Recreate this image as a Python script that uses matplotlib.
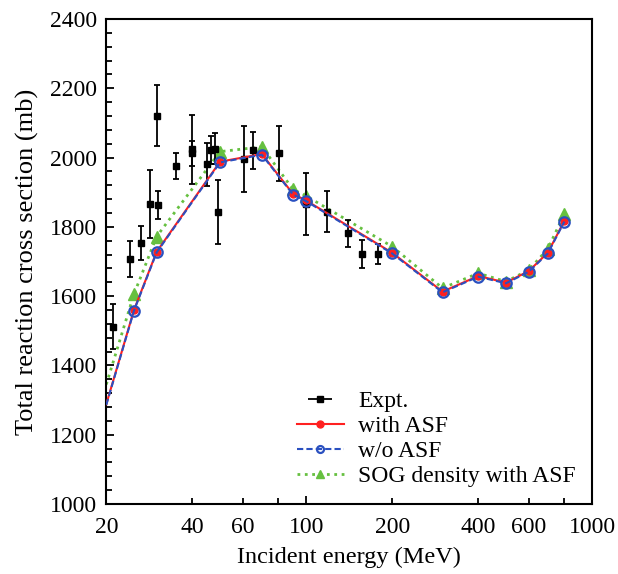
import matplotlib.pyplot as plt
from matplotlib.ticker import FixedLocator, FuncFormatter

plt.rcParams['font.family'] = ['Liberation Serif', 'DejaVu Serif']
plt.rcParams['mathtext.fontset'] = 'stix'

# experimental data
expt_E = [21.1, 24.2, 26.4, 28.5, 30.0, 30.4, 35.1, 40.0, 40.0, 45.1, 46.4,
          48.1, 49.2, 60.7, 65.3, 80.5, 99.8, 118.5, 140.3, 157.0, 178.6]
expt_sig = [1512, 1707, 1753, 1865, 2120, 1863, 1976, 2024, 2012, 1981, 2022,
            2026, 1842, 1995, 2021, 2012, 1866, 1844, 1781, 1721, 1721]
expt_err = [64, 51, 49, 98, 88, 41, 38, 100, 37, 62, 40,
            45, 93, 95, 54, 80, 90, 60, 38, 40, 29]

# calculations
calc_E = [20, 25, 30, 50, 70, 90, 100, 200, 300, 400, 500, 600, 700, 800]
with_asf = [1288, 1560, 1728, 1988, 2010, 1895, 1876, 1725, 1613, 1658, 1639, 1672, 1725, 1817]
wo_asf = [1286, 1558, 1726, 1986, 2008, 1893, 1874, 1723, 1611, 1656, 1637, 1670, 1723, 1815]
sog_asf = [1345, 1606, 1772, 2017, 2031, 1908, 1889, 1743, 1623, 1666, 1642, 1675, 1736, 1837]

fig = plt.figure(figsize=(6.18, 5.74), dpi=100)
ax = fig.add_axes([0.172, 0.122, 0.786, 0.845])

ax.errorbar(expt_E, expt_sig, yerr=expt_err, fmt='s', color='black',
            ms=5, capsize=2.5, elinewidth=1.3, capthick=1.3, zorder=3)
ax.plot(calc_E, with_asf, '-', color='#ff2020', lw=1.5, marker='o', ms=5,
        markevery=slice(1, None), zorder=4)
ax.plot(calc_E, wo_asf, '--', color='#2a50c0', lw=1.5, marker='o', ms=7.5,
        mfc='none', mew=1.6, markevery=slice(1, None), dashes=(3, 1.5), zorder=5)
ax.plot(calc_E, sog_asf, ':', color='#66c040', lw=2, marker='^', ms=8,
        markevery=slice(1, None), zorder=2)

# legend proxies
h1 = ax.errorbar([], [], xerr=[], fmt='s', color='black', ms=5,
                 capsize=2.5, elinewidth=1.3, capthick=1.3)
h2, = ax.plot([], [], '-', color='#ff2020', lw=1.5, marker='o', ms=5)
h3, = ax.plot([], [], '--', color='#2a50c0', lw=1.5, marker='o', ms=5,
              mfc='none', mew=1.6, dashes=(3, 1.5))
h4, = ax.plot([], [], ':', color='#66c040', lw=2, marker='^', ms=6)
ax.legend([h1, h2, h3, h4], ['Expt.', 'with ASF', 'w/o ASF', 'SOG density with ASF'],
          loc='lower right', frameon=False, fontsize=17, handlelength=2.0,
          handletextpad=0.6, labelspacing=0.15, borderaxespad=0.3)

ax.set_xscale('log')
ax.set_xlim(20, 1000)
ax.set_ylim(1000, 2400)

ax.xaxis.set_major_locator(FixedLocator([20, 100, 1000]))
ax.xaxis.set_minor_locator(FixedLocator([40, 60, 80, 200, 400, 600, 800]))
ax.xaxis.set_major_formatter(FuncFormatter(lambda v, p: '%d' % v))
ax.xaxis.set_minor_formatter(FuncFormatter(
    lambda v, p: '%d' % v if int(round(v)) in (40, 60, 200, 400, 600) else ''))
ax.yaxis.set_major_locator(FixedLocator(range(1000, 2401, 200)))
ax.yaxis.set_minor_locator(FixedLocator(range(1000, 2401, 40)))

ax.tick_params(which='both', direction='in', top=False, right=False,
               labelsize=17, width=1.3)
ax.tick_params(which='major', length=6)
ax.tick_params(which='minor', length=4)
ax.tick_params(axis='x', which='both', pad=9.5)
ax.tick_params(axis='y', which='both', pad=6.5)
for s in ax.spines.values():
    s.set_linewidth(1.5)

ax.set_xlabel('Incident energy (MeV)', fontsize=17.5, labelpad=6)
ax.set_ylabel('Total reaction cross section (mb)', fontsize=19, labelpad=8)

fig.savefig('out.png', dpi=100)
